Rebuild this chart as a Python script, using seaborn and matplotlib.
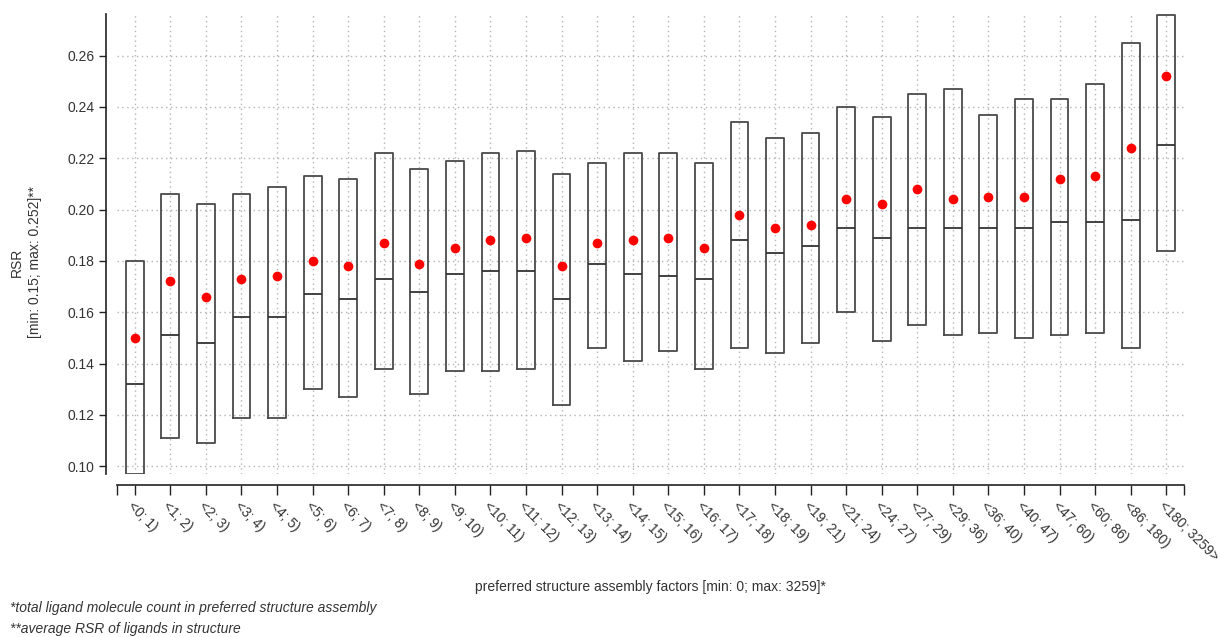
import matplotlib
matplotlib.use("Agg")
import matplotlib.pyplot as plt
import numpy as np
import pandas as pd
import seaborn as sns

# Assembly-factor bins (total ligand count in preferred assembly)
categories = ["<0; 1)", "<1; 2)", "<2; 3)", "<3; 4)", "<4; 5)", "<5; 6)", "<6; 7)",
              "<7; 8)", "<8; 9)", "<9; 10)", "<10; 11)", "<11; 12)", "<12; 13)",
              "<13; 14)", "<14; 15)", "<15; 16)", "<16; 17)", "<17; 18)", "<18; 19)",
              "<19; 21)", "<21; 24)", "<24; 27)", "<27; 29)", "<29; 36)", "<36; 40)",
              "<40; 47)", "<47; 60)", "<60; 86)", "<86; 180)", "<180; 3259>"]

# RSR box bounds, medians and means per bin
box_low = [0.097, 0.111, 0.109, 0.119, 0.119, 0.130, 0.127, 0.138, 0.128, 0.137,
           0.137, 0.138, 0.124, 0.146, 0.141, 0.145, 0.138, 0.146, 0.144, 0.148,
           0.160, 0.149, 0.155, 0.151, 0.152, 0.150, 0.151, 0.152, 0.146, 0.184]
box_high = [0.180, 0.206, 0.202, 0.206, 0.209, 0.213, 0.212, 0.222, 0.216, 0.219,
            0.222, 0.223, 0.214, 0.218, 0.222, 0.222, 0.218, 0.234, 0.228, 0.230,
            0.240, 0.236, 0.245, 0.247, 0.237, 0.243, 0.243, 0.249, 0.265, 0.276]
medians = [0.132, 0.151, 0.148, 0.158, 0.158, 0.167, 0.165, 0.173, 0.168, 0.175,
           0.176, 0.176, 0.165, 0.179, 0.175, 0.174, 0.173, 0.188, 0.183, 0.186,
           0.193, 0.189, 0.193, 0.193, 0.193, 0.193, 0.195, 0.195, 0.196, 0.225]
means = [0.150, 0.172, 0.166, 0.173, 0.174, 0.180, 0.178, 0.187, 0.179, 0.185,
         0.188, 0.189, 0.178, 0.187, 0.188, 0.189, 0.185, 0.198, 0.193, 0.194,
         0.204, 0.202, 0.208, 0.204, 0.205, 0.205, 0.212, 0.213, 0.224, 0.252]

y_ticks = [0.10, 0.12, 0.14, 0.16, 0.18, 0.20, 0.22, 0.24, 0.26]

# Long-form frame: five values per bin give quartiles = box bounds, median = median
rows = []
for c, lo, md, hi in zip(categories, box_low, medians, box_high):
    for v in (lo, lo, md, hi, hi):
        rows.append({"bin": c, "rsr": v})
df = pd.DataFrame(rows)
mean_df = pd.DataFrame({"bin": categories, "rsr": means})

sns.set_style("ticks")
plt.rcParams["font.family"] = ["Liberation Sans", "DejaVu Sans"]

fig = plt.figure(figsize=(12.21, 6.37), dpi=100)
ax = fig.add_axes([117 / 1221, 1 - 474 / 637, (1184 - 117) / 1221, (474 - 14) / 637])

text_color = "#333333"
edge_color = "#4a4a4a"
grid_kw = dict(color="#b4b4b4", linestyle=(0, (1, 2.5)), linewidth=1.0, zorder=0)

sns.boxplot(data=df, x="bin", y="rsr", order=categories, ax=ax, whis=0,
            width=0.5, fill=False, color=edge_color, linewidth=1.3,
            showcaps=False, showfliers=False,
            medianprops=dict(color="#333333", linewidth=1.3),
            whiskerprops=dict(linewidth=0))
sns.stripplot(data=mean_df, x="bin", y="rsr", order=categories, ax=ax,
              jitter=False, color="#ff0000", size=7, linewidth=0, zorder=5)

ax.set_xlim(-0.5, len(categories) - 0.5)
ax.set_ylim(0.097, 0.2762)

# dotted grid
for yv in y_ticks:
    ax.axhline(yv, **grid_kw)
for i in range(len(categories)):
    ax.axvline(i, **grid_kw)

ax.set_yticks(y_ticks, labels=[f"{v:.2f}" for v in y_ticks])
xt = [-0.5] + list(range(len(categories))) + [len(categories) - 0.5]
ax.set_xticks(xt, labels=[""] + categories + [""])
ax.tick_params(axis="x", length=7, width=1, color="#222222", pad=3,
               labelsize=10, labelcolor=text_color, labelrotation=-45)
ax.tick_params(axis="y", length=5, width=1, color="#222222", pad=3,
               labelsize=10, labelcolor=text_color)
ax.set_xlabel("")
ax.set_ylabel("")

sns.despine(ax=ax, offset=8)
for s in ("left", "bottom"):
    ax.spines[s].set_color("#222222")
    ax.spines[s].set_linewidth(1.2)

fig.canvas.draw()
for lbl in ax.get_xticklabels():
    lbl.set_horizontalalignment("left")
    lbl.set_verticalalignment("top")
    lbl.set_rotation_mode("anchor")
    lbl.set_rotation(-45)

fig.text(26 / 1221, 1 - 262 / 637, "RSR\n[min: 0.15; max: 0.252]**", rotation=90,
         ha="center", va="center", multialignment="center", fontsize=10,
         linespacing=1.45, color=text_color)
fig.text(650 / 1221, 1 - 587 / 637,
         "preferred structure assembly factors [min: 0; max: 3259]*",
         ha="center", va="center", fontsize=10, color=text_color)
fig.text(10 / 1221, 1 - 608 / 637,
         "*total ligand molecule count in preferred structure assembly",
         ha="left", va="center", fontsize=10, style="italic", color=text_color)
fig.text(10 / 1221, 1 - 629 / 637, "**average RSR of ligands in structure",
         ha="left", va="center", fontsize=10, style="italic", color=text_color)

fig.savefig("out.png", dpi=100, facecolor="white")
